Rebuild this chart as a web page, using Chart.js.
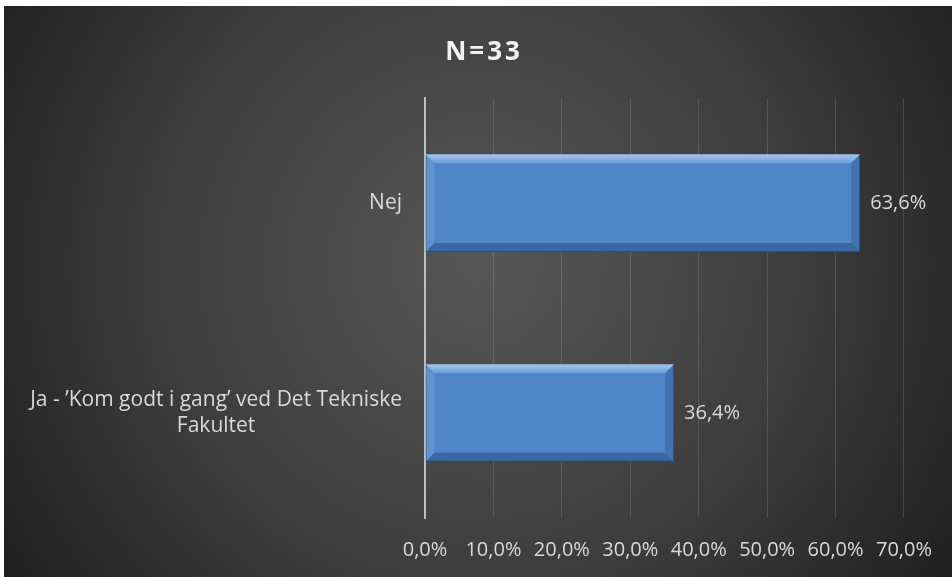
<!DOCTYPE html>
<html>
<head>
<meta charset="utf-8">
<script src="https://cdn.jsdelivr.net/npm/chart.js@4"></script>
<style>
  body { margin: 0; background: #fff; }
  #wrap { position: absolute; left: 4px; top: 6px; width: 948px; height: 571px; }
</style>
</head>
<body>
<div id="wrap"><canvas id="chart-bar"></canvas></div>
<script>
var categories = ["Nej", ["Ja - \u2019Kom godt i gang\u2019 ved Det Tekniske", "Fakultet"]];
var values = [63.6, 36.4];
var tickMax = 70;
var tickStep = 10;
var titleText = "N=33";

function pct(v) {
  return v.toFixed(1).replace(".", ",") + "%";
}

var ctx = document.getElementById("chart-bar").getContext("2d");

// dark radial background
var bgPlugin = {
  id: "bg",
  beforeDraw: function (chart) {
    var c = chart.ctx, w = chart.width, h = chart.height;
    var g = c.createRadialGradient(w * 0.5, h * 0.45, 10, w * 0.5, h * 0.45, w * 0.62);
    g.addColorStop(0, "#565656");
    g.addColorStop(0.55, "#3c3c3c");
    g.addColorStop(1, "#1d1d1d");
    c.save();
    c.fillStyle = g;
    c.fillRect(0, 0, w, h);
    c.restore();
  }
};

// spaced-out title drawn over the space the title box reserves
var spacedTitle = {
  id: "spacedTitle",
  afterDraw: function (chart) {
    var c = chart.ctx;
    var box = chart.titleBlock;
    c.save();
    c.fillStyle = "#f2f2f2";
    c.font = "bold 26px 'Open Sans'";
    c.letterSpacing = "3px";
    c.textAlign = "center";
    c.textBaseline = "middle";
    c.fillText(titleText, chart.width / 2 + 6, (box.top + box.bottom) / 2);
    c.restore();
  }
};

// bevel + value labels on bars
var barDeco = {
  id: "barDeco",
  afterDatasetsDraw: function (chart) {
    var c = chart.ctx;
    var meta = chart.getDatasetMeta(0);
    meta.data.forEach(function (bar, i) {
      var left = bar.base, right = bar.x;
      var top = bar.y - bar.height / 2, bottom = bar.y + bar.height / 2;
      var b = 9;
      c.save();
      var tg = c.createLinearGradient(0, top, 0, top + b);
      tg.addColorStop(0, "rgba(200,228,255,0.75)");
      tg.addColorStop(1, "rgba(160,200,245,0.35)");
      c.fillStyle = tg;
      c.beginPath();
      c.moveTo(left, top); c.lineTo(right, top); c.lineTo(right - b, top + b); c.lineTo(left + b, top + b);
      c.closePath(); c.fill();
      c.fillStyle = "rgba(170,205,250,0.18)";
      c.beginPath();
      c.moveTo(left, top); c.lineTo(left + b, top + b); c.lineTo(left + b, bottom - b); c.lineTo(left, bottom);
      c.closePath(); c.fill();
      c.fillStyle = "rgba(20,50,100,0.22)";
      c.beginPath();
      c.moveTo(right, top); c.lineTo(right, bottom); c.lineTo(right - b, bottom - b); c.lineTo(right - b, top + b);
      c.closePath(); c.fill();
      c.fillStyle = "rgba(20,50,100,0.35)";
      c.beginPath();
      c.moveTo(left, bottom); c.lineTo(right, bottom); c.lineTo(right - b, bottom - b); c.lineTo(left + b, bottom - b);
      c.closePath(); c.fill();
      // value label
      c.fillStyle = "#d9d9d9";
      c.font = "20px 'Open Sans'";
      c.textAlign = "left";
      c.textBaseline = "middle";
      c.fillText(pct(values[i]), right + 10, bar.y);
      c.restore();
    });
  }
};

// category labels: right aligned block, lines centered inside
var catLabels = {
  id: "catLabels",
  afterDraw: function (chart) {
    var c = chart.ctx;
    var y = chart.scales.y;
    var xRight = chart.chartArea.left - 23;
    c.save();
    c.fillStyle = "#d9d9d9";
    c.font = "21px 'Open Sans'";
    c.textBaseline = "middle";
    c.textAlign = "center";
    categories.forEach(function (lab, i) {
      var lines = Array.isArray(lab) ? lab : [lab];
      var wMax = 0;
      lines.forEach(function (l) { wMax = Math.max(wMax, c.measureText(l).width); });
      var cx = xRight - wMax / 2;
      var lh = 26;
      var py = y.getPixelForTick(i) - (lines.length - 1) * lh / 2;
      lines.forEach(function (l, k) { c.fillText(l, cx, py + k * lh); });
    });
    c.restore();
  }
};

function barFill(context) {
  var chart = context.chart;
  if (!chart.chartArea) return "#4f86c8";
  var bar = chart.getDatasetMeta(0).data[context.dataIndex];
  if (!bar || bar.height === undefined) return "#4f86c8";
  var top = bar.y - bar.height / 2, bottom = bar.y + bar.height / 2;
  var g = chart.ctx.createLinearGradient(0, top, 0, bottom);
  g.addColorStop(0, "#6897d5");
  g.addColorStop(1, "#4177c2");
  return g;
}

new Chart(ctx, {
  type: "bar",
  data: {
    labels: categories,
    datasets: [{
      data: values,
      backgroundColor: barFill,
      borderColor: "#2f5d9c",
      borderWidth: 1,
      borderSkipped: false,
      categoryPercentage: 1,
      barPercentage: 0.465
    }]
  },
  options: {
    indexAxis: "y",
    responsive: true,
    maintainAspectRatio: false,
    animation: false,
    layout: {
      padding: { top: 0, right: 44, bottom: 0, left: 0 }
    },
    plugins: {
      legend: { display: false },
      tooltip: { enabled: false },
      title: {
        display: true,
        text: titleText,
        color: "rgba(0,0,0,0)",
        font: { size: 26, family: "Open Sans", weight: "bold" },
        padding: { top: 27, bottom: 34 }
      }
    },
    scales: {
      x: {
        min: 0,
        max: tickMax,
        grid: {
          color: "rgba(255,255,255,0.13)",
          drawTicks: false
        },
        border: { display: false },
        ticks: {
          stepSize: tickStep,
          color: "#d9d9d9",
          padding: 20,
          font: { size: 20, family: "Open Sans" },
          callback: function (v) { return pct(v); }
        },
        afterFit: function (scale) { scale.height = 59; }
      },
      y: {
        grid: { display: false, drawTicks: false },
        border: { display: true, color: "#bfbfbf", width: 2 },
        ticks: { display: false },
        afterFit: function (scale) { scale.width = 421; }
      }
    }
  },
  plugins: [bgPlugin, barDeco, catLabels, spacedTitle]
});
</script>
</body>
</html>
